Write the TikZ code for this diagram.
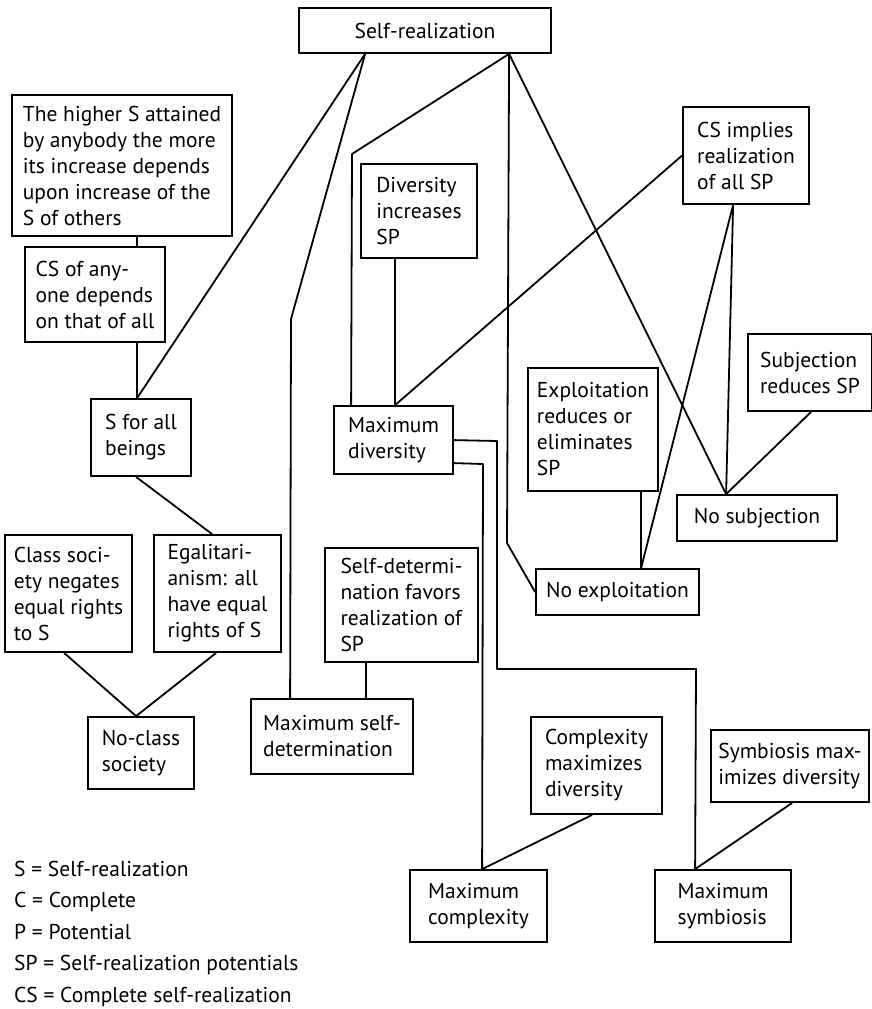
\documentclass[tikz,border=0pt]{standalone}
\usepackage{fontspec}
\setmainfont{PT Sans}
\begin{document}
\begin{tikzpicture}[x=1pt,y=-1pt,
  box/.style={draw, line width=1.8pt, inner sep=0pt, align=left,
    font=\fontsize{21.5}{26}\selectfont},
  conn/.style={line width=1.8pt, line join=round}]
\useasboundingbox (0,0) rectangle (871,1009);
% nodes
\node[box, minimum width=252, minimum height=45, align=center] (top) at (425,30.5) {Self-realization};
\node[box, minimum width=220, minimum height=141] (hi) at (122,165.5) {The higher S attained\\by anybody the more\\its increase depends\\upon increase of the\\S of others};
\node[box, minimum width=140, minimum height=95] (cs) at (95,294.5) {CS of any-\\one depends\\on that of all};
\node[box, minimum width=100, minimum height=77] (sall) at (141,437.5) {S for all\\beings};
\node[box, minimum width=127, minimum height=117] (cls) at (68.5,593.5) {Class soci-\\ety negates\\equal rights\\to S};
\node[box, minimum width=127, minimum height=117] (ega) at (217.5,593.5) {Egalitari-\\anism: all\\have equal\\rights of S};
\node[box, minimum width=106, minimum height=72] (nocls) at (141,753) {No-class\\society};
\node[box, minimum width=153, minimum height=114] (sdf) at (401.5,605) {Self-determi-\\nation favors\\realization of\\SP};
\node[box, minimum width=162, minimum height=75] (msd) at (332,736.5) {Maximum self-\\determination};
\node[box, minimum width=116, minimum height=94] (div) at (419,211) {Diversity\\increases\\SP};
\node[box, minimum width=119, minimum height=68] (mdiv) at (393.5,440) {Maximum\\diversity};
\node[box, minimum width=126, minimum height=97] (csi) at (746,155.5) {CS implies\\realization\\of all SP};
\node[box, minimum width=130, minimum height=123] (expl) at (593,429.5) {Exploitation\\reduces or\\eliminates\\SP};
\node[box, minimum width=163, minimum height=46] (noexp) at (617.5,592) {No exploitation};
\node[box, minimum width=124, minimum height=77] (subj) at (810,372.5) {Subjection\\reduces SP};
\node[box, minimum width=160, minimum height=46] (nosub) at (757,518) {No subjection};
\node[box, minimum width=131, minimum height=97] (cxf) at (596.5,765.5) {Complexity\\maximizes\\diversity};
\node[box, minimum width=137, minimum height=72] (mcx) at (478.5,906) {Maximum\\complexity};
\node[box, minimum width=158, minimum height=72] (symf) at (790,766) {Symbiosis max-\\imizes diversity};
\node[box, minimum width=136, minimum height=72] (msym) at (723,906) {Maximum\\symbiosis};
\node[anchor=base west, inner sep=0pt, align=left, font=\fontsize{21.5}{31.5}\selectfont] (legend) at (14,1002)
  {S = Self-realization\\C = Complete\\P = Potential\\SP = Self-realization potentials\\CS = Complete self-realization};
% bend points
\coordinate (b1) at (291,319);
\coordinate (b2) at (352,154);
\coordinate (b3) at (507,543);
\coordinate (b4) at (497,441);
\coordinate (b5) at (497,669);
\coordinate (b6) at (696,669);
\coordinate (b7) at (483,464);
% connectors
\draw[conn] ([xshift=126]hi.south west) -- ([xshift=113]cs.north west);
\draw[conn] ([xshift=113]cs.south west) -- ([xshift=47]sall.north west);
\draw[conn] ([xshift=67]top.south west) -- ([xshift=47]sall.north west);
\draw[conn] ([xshift=67]top.south west) -- (b1) -- ([xshift=40]msd.north west);
\draw[conn] ([xshift=211]top.south west) -- (b2) -- ([xshift=18]mdiv.north west);
\draw[conn] ([xshift=35]div.south west) -- ([xshift=62]mdiv.north west);
\draw[conn] (csi.west) -- ([xshift=62]mdiv.north west);
\draw[conn] ([xshift=211]top.south west) -- (b3) -- (noexp.west);
\draw[conn] ([xshift=211]top.south west) -- ([xshift=50]nosub.north west);
\draw[conn] ([xshift=51]csi.south west) -- ([xshift=106]noexp.north west);
\draw[conn] ([xshift=51]csi.south west) -- ([xshift=50]nosub.north west);
\draw[conn] ([xshift=114]expl.south west) -- ([xshift=106]noexp.north west);
\draw[conn] ([xshift=64]subj.south west) -- ([xshift=50]nosub.north west);
\draw[conn] ([xshift=46]sall.south west) -- ([xshift=59]ega.north west);
\draw[conn] ([xshift=60]cls.south west) -- ([xshift=49]nocls.north west);
\draw[conn] ([xshift=63]ega.south west) -- ([xshift=49]nocls.north west);
\draw[conn] ([xshift=42]sdf.south west) -- ([xshift=116]msd.north west);
\draw[conn] ([yshift=-35]mdiv.north east) -- (b4) -- (b5) -- (b6) -- ([xshift=41]msym.north west);
\draw[conn] ([yshift=-58]mdiv.north east) -- (b7) -- ([xshift=73]mcx.north west);
\draw[conn] ([xshift=62]cxf.south west) -- ([xshift=73]mcx.north west);
\draw[conn] ([xshift=82]symf.south west) -- ([xshift=41]msym.north west);
\end{tikzpicture}
\end{document}
